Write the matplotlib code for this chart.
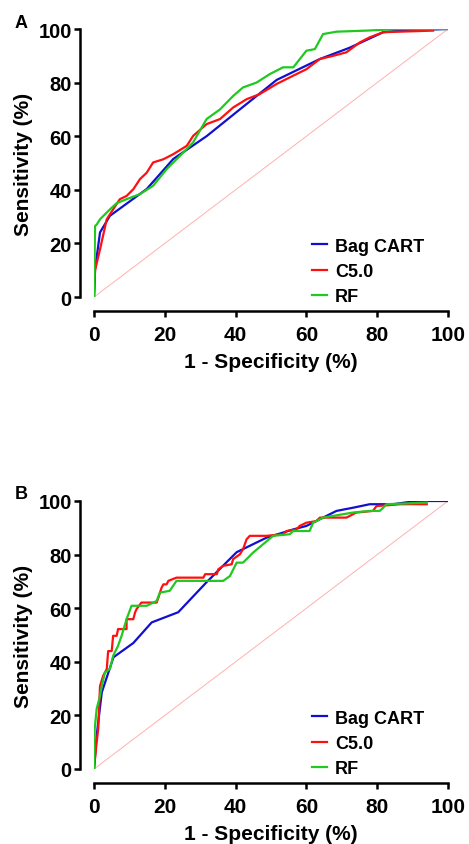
import matplotlib
matplotlib.use("Agg")
import matplotlib.pyplot as plt

plt.rcParams['font.family'] = ['Liberation Sans', 'DejaVu Sans']
plt.rcParams['font.weight'] = 'bold'

models = ["Bag CART", "C5.0", "RF"]
colors = ["#1010d0", "#ff1010", "#20c820"]
ticks = [0, 20, 40, 60, 80, 100]

# Panel A
a_bag_x = [0, 0.3, 1.7, 4.5, 14.9, 22.4, 31.8, 41.2, 51.6, 63.8, 72.2, 81.7, 86, 100]
a_bag_y = [0, 10.4, 24.1, 30.3, 40.3, 51.5, 60, 70, 81, 88.8, 93, 98.8, 99.4, 100]

a_c50_x = [0, 0.3, 1.7, 3.6, 5.4, 7.3, 9.2, 11.1, 13, 14.9, 16.7, 19.6, 22.4, 26.2, 28, 31.8,
           35.6, 39.3, 43.1, 46.8, 51.6, 56.3, 60, 63.8, 67.6, 71.3, 75.1, 77.9, 81.7, 86.4, 95.8]
a_c50_y = [0, 10, 17.8, 29, 32.7, 36.5, 37.7, 40.2, 44, 46.4, 50.2, 51.4, 53.3, 56.4, 60.1, 64.5,
           66.4, 70.7, 73.8, 75.7, 79.5, 82.6, 85, 88.8, 90, 91.3, 95, 96.9, 98.8, 99, 99.4]

a_rf_x = [0, 0.3, 0.75, 1.7, 4.5, 6.4, 9.2, 13, 16.7, 20.5, 24.3, 28, 31.8, 35.6, 39.3, 42.1,
          45.9, 49.7, 53.4, 56.3, 60, 62.4, 64.7, 68.5, 77, 86.4, 100]
a_rf_y = [0, 26.5, 27, 29, 32.7, 35, 36.5, 38.4, 41.5, 47.7, 52.7, 57.7, 66.4, 70, 75, 78.2,
          80, 83.2, 85.7, 85.7, 91.9, 92.5, 98.1, 99, 99.4, 100, 100]

# Panel B
b_bag_x = [0, 0.75, 2.2, 5.5, 11.1, 16.3, 23.8, 31.8, 40.3, 48.7, 56.3, 60, 63.8, 68.5, 73.2,
           77.9, 84.5, 91, 100]
b_bag_y = [0, 12.4, 28.6, 41.7, 47, 54.7, 58.5, 69.7, 80.9, 86.3, 89.4, 90.7, 93.2, 96.3, 97.5,
           98.8, 98.8, 100, 100]

b_c50_x = [0, 0.75, 1.2, 1.7, 2.6, 3.6, 4.0, 5.0, 5.4, 6.4, 6.8, 9.2, 9.2, 11.1, 11.6, 12, 13.4,
           17.7, 18.2, 19.1, 19.6, 20.5, 21, 23.3, 30.9, 31.4, 34.7, 35.1, 36.5, 38.9, 39.3, 41.2,
           42.1, 43.1, 44, 48.7, 53.4, 54.4, 57.2, 58.1, 60, 62.8, 63.8, 71.3, 72.2, 74.1, 78.8,
           79.8, 86.6, 94]
b_c50_y = [0, 10, 15, 31, 34.8, 37.3, 44, 44, 49.7, 49.7, 52.2, 52.2, 55.9, 55.9, 58.4, 59.6, 62.1,
           62.1, 64, 67.7, 68.9, 68.9, 70.2, 71.4, 71.4, 72.7, 72.7, 74.5, 75.8, 76.4, 78.3, 80.1,
           82, 85.7, 87, 87, 87.6, 88.8, 89.4, 90.7, 91.9, 92.5, 93.8, 93.8, 94.4, 95.7, 96.3,
           98.1, 98.8, 98.8]

b_rf_x = [0, 0.2, 0.75, 1.7, 2.2, 3.1, 4.5, 5.4, 6.8, 7.8, 9.2, 10.6, 14.9, 17.7, 18.6, 21.4, 23.3,
          36.5, 38.4, 40.3, 42.1, 43.1, 44.9, 47.8, 50.6, 55.3, 56.3, 60.9, 61.9, 64.7, 73.2, 77.9,
          80.7, 81.7, 82.6, 94]
b_rf_y = [0, 15, 22.4, 27.3, 31, 36, 37.3, 42.2, 46, 49.7, 55.9, 60.9, 60.9, 62.7, 65.8, 66.5, 70.2,
          70.2, 72, 77, 77, 78.3, 80.7, 83.9, 87, 87.6, 88.8, 88.8, 91.9, 93.8, 95.7, 96.3,
          96.3, 97.5, 98.8, 99.4]

panels = [
    ("A", [(a_bag_x, a_bag_y), (a_c50_x, a_c50_y), (a_rf_x, a_rf_y)]),
    ("B", [(b_bag_x, b_bag_y), (b_c50_x, b_c50_y), (b_rf_x, b_rf_y)]),
]

W, H = 469, 845
fig = plt.figure(figsize=(W / 100, H / 100), dpi=100)

axes_px = [(94, 30), (94, 502)]
for (label, series), (x0, y0) in zip(panels, axes_px):
    ax = fig.add_axes([x0 / W, 1 - (y0 + 268) / H, 354 / W, 268 / H])
    ax.plot([0, 100], [0, 100], color="#ffb0b0", lw=0.7, zorder=1)
    for name, col, (xs, ys) in zip(models, colors, series):
        ax.plot(xs, ys, color=col, lw=1.6, label=name, zorder=3)
    ax.set_xlim(0, 100)
    ax.set_ylim(0, 100)
    ax.set_xticks(ticks)
    ax.set_yticks(ticks)
    for s in ["top", "right"]:
        ax.spines[s].set_visible(False)
    for s in ["left", "bottom"]:
        ax.spines[s].set_position(("outward", 10))
        ax.spines[s].set_linewidth(1.8)
    ax.tick_params(width=1.8, length=4, labelsize=14.5, pad=2)
    ax.tick_params(axis="x", pad=6, labelsize=15)
    for t in ax.get_xticklabels() + ax.get_yticklabels():
        t.set_fontweight("bold")
    ax.set_xlabel("1 - Specificity (%)", fontsize=15, fontweight="bold", labelpad=6)
    ax.set_ylabel("Sensitivity (%)", fontsize=15, fontweight="bold", labelpad=4)
    leg = ax.legend(loc="lower left", bbox_to_anchor=(0.615, -0.03), frameon=False,
                    fontsize=13, handlelength=0.85, handletextpad=0.45,
                    labelspacing=0.45, borderpad=0, borderaxespad=0)
    for t in leg.get_texts():
        t.set_fontweight("bold")
    fig.text((x0 - 73) / W, 1 - (y0 - 7) / H, label, fontsize=13, fontweight="bold",
             ha="center", va="center")

fig.savefig("out.png", dpi=100)
